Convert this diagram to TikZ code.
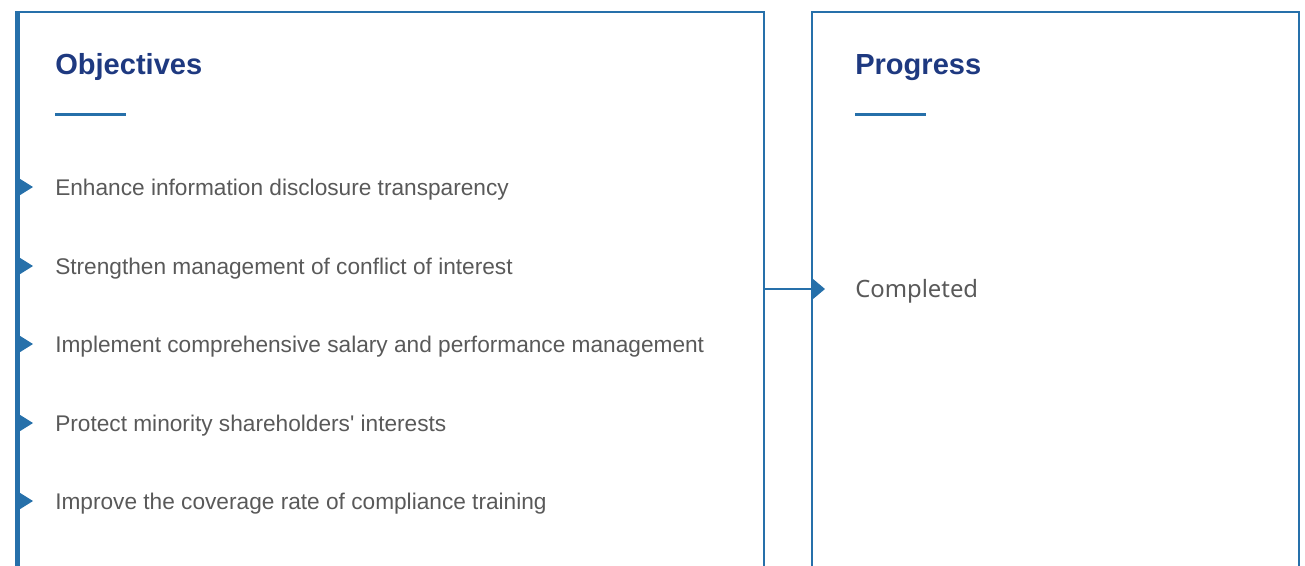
\documentclass[tikz,border=0pt]{standalone}
\usepackage{fontspec}
\setmainfont{Liberation Sans}
\newfontfamily\progfont{Noto Sans}
\usetikzlibrary{arrows.meta, math}
\definecolor{gblue}{RGB}{38,112,170}
\definecolor{gnavy}{RGB}{30,57,128}
\definecolor{ggray}{RGB}{89,89,89}
\tikzset{
  panel/.style={draw=gblue, line width=1.5pt},
  heading/.style={anchor=base west, inner sep=0pt, text=gnavy, font=\fontsize{21.8}{26}\selectfont\bfseries},
  item/.style={anchor=base west, inner sep=0pt, text=ggray, font=\fontsize{17}{20}\selectfont},
  rule/.style={draw=gblue, line width=2.25pt},
}

\begin{document}
\begin{tikzpicture}[x=0.75pt, y=-0.75pt]
\tikzmath{
\W=1305; \H=565;
}
\useasboundingbox (0,0) rectangle (\W,\H);
\clip (0,0) rectangle (\W,\H);

% objectives
\draw[panel] (17.5,600) -- (17.5,12) -- (764,12) -- (764,600);
\draw[gblue, line width=3.75pt] (17.5,11) -- (17.5,600);
\node[heading] (objTitle) at (55,74) {Objectives};
\draw[rule] (55,114) -- (126,114);

\foreach \y/\txt [count=\i] in {195/Enhance information disclosure transparency,
  274/Strengthen management of conflict of interest,
  352/Implement comprehensive salary and performance management,
  431/Protect minority shareholders\textquotesingle{} interests,
  509/Improve the coverage rate of compliance training}
{
  \fill[gblue] (17,\y-18) -- (33,\y-8) -- (17,\y+2) -- cycle;
  \node[item] (obj\i) at (55,\y) {\txt};
}

% progress
\draw[panel] (812,600) -- (812,12) -- (1299,12) -- (1299,600);
\node[heading] (progTitle) at (855,74) {Progress};
\draw[rule] (855,114) -- (926,114);
\node[item, font=\progfont\fontsize{17.9}{21}\selectfont] (done) at (855,297) {Completed};

\coordinate (objPin) at (764,289);
\coordinate (progPin) at (825,289);
\draw[gblue, line width=1.5pt, -{Triangle[length=9.75pt, width=16pt]}] (objPin) -- (progPin);

\end{tikzpicture}
\end{document}
